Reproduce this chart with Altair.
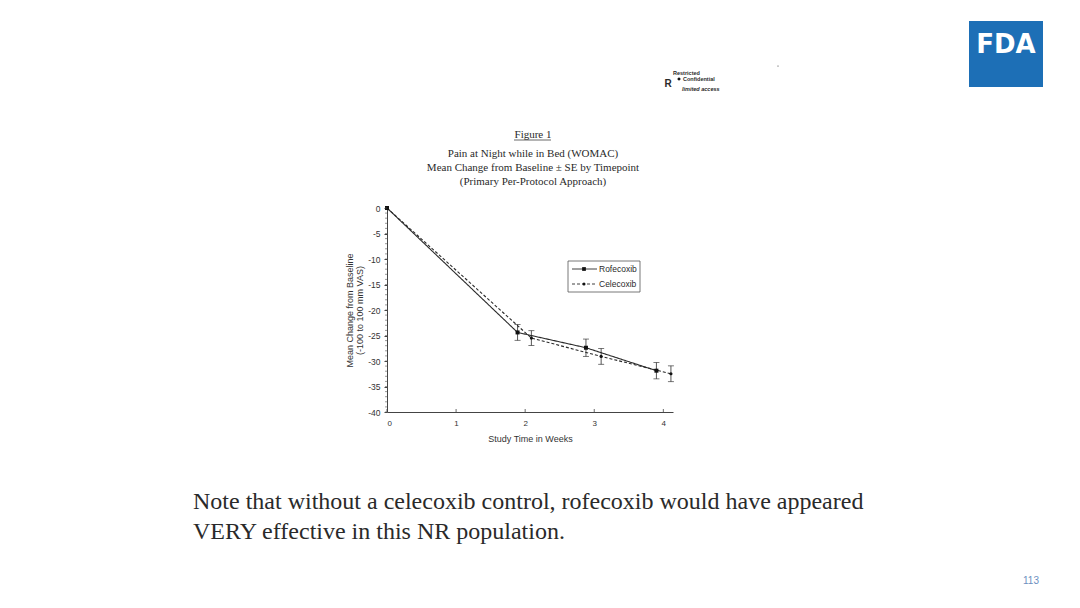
import altair as alt
import pandas as pd

# ---------------- data ----------------
series_names = ["Rofecoxib", "Celecoxib"]
rofe_weeks = [0.0, 1.89, 2.88, 3.90]
rofe_mean = [0.0, -24.4, -27.4, -31.9]
rofe_se = [0.0, 1.55, 1.70, 1.60]
cele_weeks = [0.0, 2.09, 3.10, 4.11]
cele_mean = [0.0, -25.5, -29.1, -32.5]
cele_se = [0.0, 1.45, 1.55, 1.55]

x_tick_values = [0, 1, 2, 3, 4]
y_tick_values = [0, -5, -10, -15, -20, -25, -30, -35, -40]
y_minor_values = [-40, -39, -38, -37, -36, -35, -34, -33, -32, -31, -30, -29, -28, -27,
                  -26, -25, -24, -23, -22, -21, -20, -19, -18, -17, -16, -15, -14, -13,
                  -12, -11, -10, -9, -8, -7, -6, -5, -4, -3, -2, -1, 0]

fig_label = "Figure 1"
title_lines = ["Pain at Night while in Bed (WOMAC)",
               "Mean Change from Baseline \u00b1 SE by Timepoint",
               "(Primary Per-Protocol Approach)"]
y_title = ["Mean Change from Baseline", "(-100 to 100 mm VAS)"]
x_title = "Study Time in Weeks"
note_lines = ["Note that without a celecoxib control, rofecoxib would have appeared",
              "VERY effective in this NR population."]
page_number = "113"

# ---------------- tables ----------------
rows = []
for name, ws, ms, ss in [(series_names[0], rofe_weeks, rofe_mean, rofe_se),
                         (series_names[1], cele_weeks, cele_mean, cele_se)]:
    for w, m, s in zip(ws, ms, ss):
        rows.append({"series": name, "week": w, "mean": m, "lo": m - s, "hi": m + s, "se": s})
df = pd.DataFrame(rows)
df_err = df[df["se"] > 0]

INK = "#2a2a2a"
SANS = "Liberation Sans"
SERIF = "Liberation Serif"

xscale = alt.Scale(domain=[0, 4.14], nice=False, zero=False)
yscale = alt.Scale(domain=[-40, 0], nice=False, zero=False)

x_axis = alt.Axis(values=x_tick_values, format="d", ticks=False, grid=False,
                  labelFont=SANS, labelFontSize=8, labelColor="#333",
                  labelPadding=7, domainColor="#444", domainWidth=1,
                  labelOverlap=False,
                  title=x_title, titleFont=SANS, titleFontSize=9,
                  titleFontWeight="normal", titleColor="#333", titlePadding=7)
y_axis = alt.Axis(values=y_tick_values, tickSize=3, grid=False,
                  labelExpr="replace(format(datum.value, 'd'), '\u2212', '-')",
                  labelFont=SANS, labelFontSize=8.5, labelColor="#333",
                  labelPadding=4, domainColor="#444", tickColor="#444",
                  labelOverlap=False,
                  title=y_title, titleFont=SANS, titleFontSize=9,
                  titleFontWeight="normal", titleColor="#333",
                  titlePadding=3, titleLineHeight=10)


def X(field):
    return alt.X(field, scale=xscale, axis=x_axis)


def Y(field):
    return alt.Y(field, scale=yscale, axis=y_axis)


dash = alt.StrokeDash("series:N", scale=alt.Scale(domain=series_names, range=[[1, 0], [3, 2]]),
                      legend=None)

lines = alt.Chart(df).mark_line(color=INK, strokeWidth=1.1).encode(
    x=X("week:Q"), y=Y("mean:Q"), strokeDash=dash, detail="series:N")

err = alt.Chart(df_err).mark_rule(color=INK, strokeWidth=0.8).encode(
    x=X("week:Q"), y=Y("lo:Q"), y2="hi:Q")

caps = alt.Chart(df_err).transform_fold(["lo", "hi"], as_=["end", "val"]).mark_tick(
    color=INK, orient="horizontal", size=6, thickness=0.9).encode(
    x=X("week:Q"), y=Y("val:Q"))

pts = alt.Chart(df).mark_point(filled=True, color="#111", opacity=1).encode(
    x=X("week:Q"), y=Y("mean:Q"),
    shape=alt.Shape("series:N", scale=alt.Scale(domain=series_names, range=["square", "circle"]),
                    legend=None),
    size=alt.Size("series:N", scale=alt.Scale(domain=series_names, range=[16, 10]), legend=None))

minor = alt.Chart(pd.DataFrame({"v": y_minor_values})).mark_rule(color="#555", strokeWidth=0.6).encode(
    y=Y("v:Q"), x=alt.value(-2), x2=alt.value(0))

xticks = alt.Chart(pd.DataFrame({"v": x_tick_values})).mark_rule(color="#444", strokeWidth=0.8).encode(
    x=X("v:Q"), y=alt.value(201), y2=alt.value(204))


def txt(s, x, y, size, font=SANS, color=INK, align="center", weight="normal",
        style="normal", baseline="middle"):
    return alt.Chart(pd.DataFrame({"t": [s]})).mark_text(
        font=font, fontSize=size, color=color, align=align, fontWeight=weight,
        fontStyle=style, baseline=baseline).encode(
        text="t:N", x=alt.value(x), y=alt.value(y))


def rect(x, x2, y, y2, fill, stroke=None, sw=0):
    kw = dict(fill=fill, strokeWidth=sw)
    if stroke:
        kw["stroke"] = stroke
    return alt.Chart(pd.DataFrame({"a": [0]})).mark_rect(**kw).encode(
        x=alt.value(x), x2=alt.value(x2), y=alt.value(y), y2=alt.value(y2))


def hline(x, x2, y, color=INK, sw=0.8, dash=None):
    kw = dict(color=color, strokeWidth=sw)
    if dash:
        kw["strokeDash"] = dash
    return alt.Chart(pd.DataFrame({"a": [0]})).mark_rule(**kw).encode(
        x=alt.value(x), x2=alt.value(x2), y=alt.value(y))


def dot(x, y, shape, size):
    return alt.Chart(pd.DataFrame({"a": [0]})).mark_point(
        shape=shape, filled=True, color="#111", opacity=1, size=size).encode(
        x=alt.value(x), y=alt.value(y))


# titles
deco = [
    txt(fig_label, 146, -73, 11, font=SERIF),
    hline(127, 164, -68, sw=0.7),
    txt(title_lines[0], 146, -54, 11, font=SERIF),
    txt(title_lines[1], 146, -40, 11, font=SERIF),
    txt(title_lines[2], 146, -26, 11, font=SERIF),
    # legend box
    rect(181, 253, 53, 84, "white", stroke="#555", sw=0.8),
    hline(185, 210, 61, sw=0.9),
    dot(197, 61, "square", 14),
    txt(series_names[0], 212, 61, 8.5, align="left"),
    hline(185, 210, 76, sw=0.9, dash=[3, 2]),
    dot(197, 76, "circle", 9),
    txt(series_names[1], 212, 76, 8.5, align="left"),
    # stamp
    txt("R", 281, -124, 10, weight="bold"),
    txt("Restricted", 286, -135, 5.5, align="left", weight="bold"),
    dot(292, -129, "diamond", 14),
    txt("Confidential", 296, -129, 5.5, align="left", weight="bold"),
    txt("limited access", 295, -119, 5.5, align="left", weight="bold", style="italic"),
    dot(391, -142, "circle", 1),
    # FDA logo
    rect(582, 656, -187, -121, "#1d6fb6"),
    txt("FDA", 619, -163, 26, font="DejaVu Sans", color="white", weight="bold"),
    # note
    txt(note_lines[0], -194, 301, 24, font=SERIF, color="#2a2a2a", align="left", baseline="alphabetic"),
    txt(note_lines[1], -194, 331, 24, font=SERIF, color="#2a2a2a", align="left", baseline="alphabetic"),
    # page number
    txt(page_number, 644, 373, 10, color="#6d8fbf"),
]

chart = alt.layer(lines, err, caps, pts, minor, xticks, *deco).properties(
    width=286, height=204,
    padding={"left": 379, "top": 200, "right": 395, "bottom": 184},
    autosize=alt.AutoSizeParams(type="none"),
    background="white",
).configure_view(stroke=None)

chart.save("out.html", embed_options={"renderer": "svg", "actions": False})
